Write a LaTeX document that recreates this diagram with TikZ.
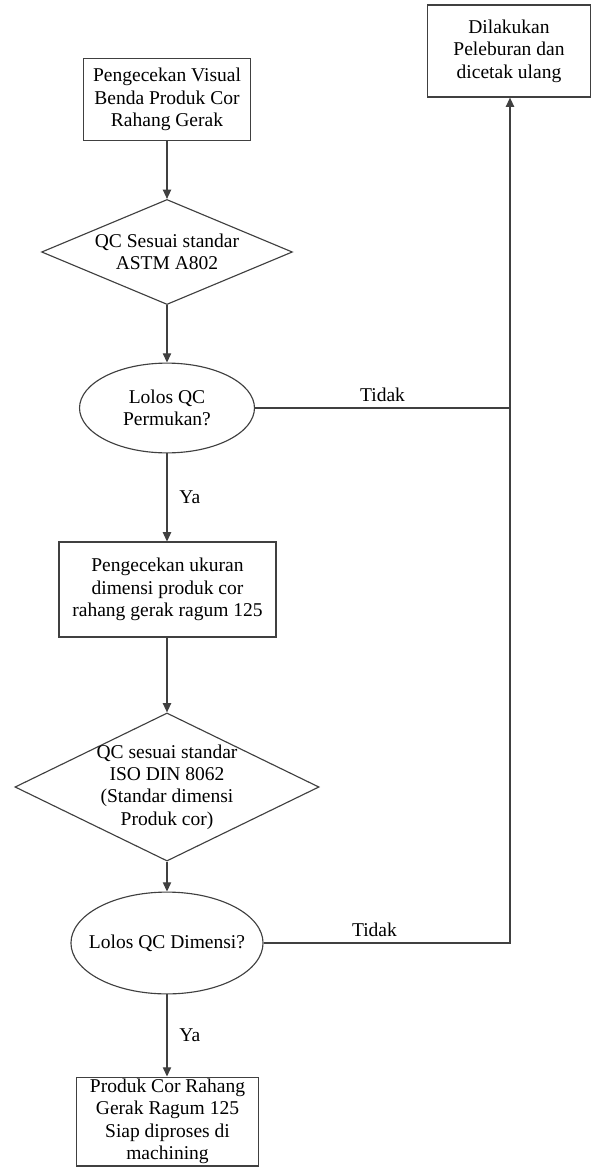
\documentclass[tikz,border=0pt]{standalone}
\usepackage{fontspec}
\setmainfont{Liberation Serif}
\usetikzlibrary{shapes.geometric, arrows.meta, positioning}

\begin{document}
\begin{tikzpicture}[
    x=0.0216cm, y=-0.0216cm,
    every node/.style={font=\fontsize{12}{13.8}\selectfont},
    process/.style={draw=black!75, line width=0.7pt, rectangle, align=center, inner sep=2pt},
    decision/.style={draw=black!75, line width=0.7pt, diamond, inner sep=0pt},
    check/.style={draw=black!75, line width=0.7pt, ellipse, align=center, inner sep=0pt},
    arrow/.style={draw=black!75, line width=0.7pt, -{Triangle[length=2mm, width=1.8mm]}},
    line/.style={draw=black!75, line width=0.7pt}
]
\useasboundingbox (0,0) rectangle (592,1168);

% Process steps
\node[process, minimum width=3.61cm, minimum height=1.79cm] (visual) at (167,99.5)
    {Pengecekan Visual\\Benda Produk Cor\\Rahang Gerak};
\node[decision, minimum width=5.42cm, minimum height=2.27cm,
    label={[align=center]center:{QC Sesuai standar\\ASTM A802}}] (astm) at (167,252) {};
\node[check, minimum width=3.78cm, minimum height=1.94cm] (surface) at (167,408)
    {Lolos QC\\Permukan?};
\node[process, minimum width=4.69cm, minimum height=2.05cm] (dimcheck) at (167.5,589.5)
    {Pengecekan ukuran\\dimensi produk cor\\rahang gerak ragum 125};
\node[decision, minimum width=6.57cm, minimum height=3.2cm,
    label={[align=center]center:{QC sesuai standar\\ISO DIN 8062\\(Standar dimensi\\Produk cor)}}] (iso) at (167,787) {};
\node[check, minimum width=4.15cm, minimum height=2.2cm,
    label={center:{Lolos QC Dimensi?}}] (dimension) at (167,943) {};
\node[process, minimum width=3.95cm, minimum height=1.92cm, inner sep=1pt] (ready) at (167.5,1121.5)
    {Produk Cor Rahang\\Gerak Ragum 125\\Siap diproses di\\machining};

% Rejected parts
\node[process, minimum width=3.54cm, minimum height=1.99cm] (remelt) at (509,51)
    {Dilakukan\\Peleburan dan\\dicetak ulang};
\coordinate (join) at (510,408);

% Main flow
\draw[arrow] (visual.south) -- (astm.north);
\draw[arrow] (astm.south) -- (surface.north);
\draw[arrow] (surface.south) -- node[right, xshift=4pt] {Ya} (surface.south |- dimcheck.north);
\draw[arrow] (surface.south |- dimcheck.south) -- (iso.north);
\draw[arrow] (iso.south) -- (dimension.north);
\draw[arrow] (dimension.south) -- node[right, xshift=4pt] {Ya} (dimension.south |- ready.north);

% Tidak branches
\draw[line] (surface.east) -- node[above] {Tidak} (join);
\draw[arrow] (join) -- (join |- remelt.south);
\draw[line] (dimension.east) -- node[above, pos=0.45] {Tidak} (dimension -| join) -- (join);

\end{tikzpicture}
\end{document}
